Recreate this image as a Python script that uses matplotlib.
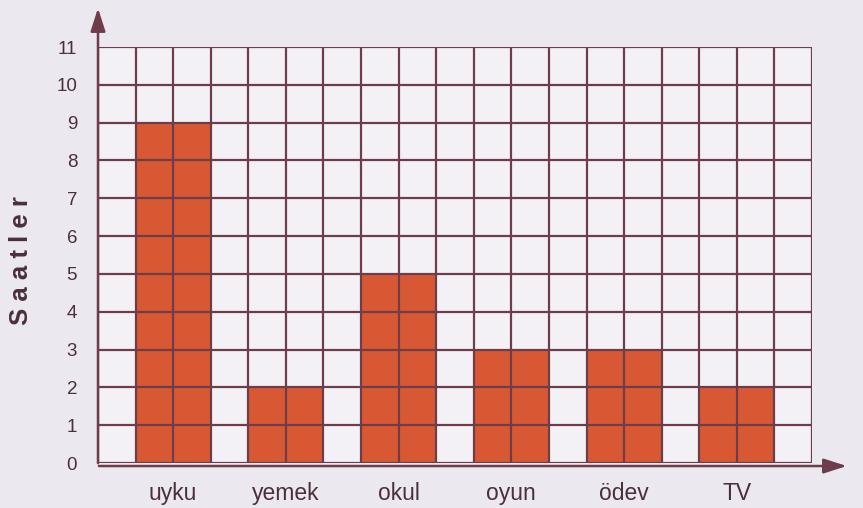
import numpy as np
import matplotlib
matplotlib.use('Agg')
import matplotlib.pyplot as plt

categories = ['uyku', 'yemek', 'okul', 'oyun', 'ödev', 'TV']
hours = [9, 2, 5, 3, 3, 2]
y_ticks = list(range(0, 12))

bg = '#ebe8f0'
line_col = '#6e3d4c'
bar_col = '#d85834'
text_col = '#4a2f3c'

plt.rcParams['font.family'] = ['Liberation Sans', 'DejaVu Sans']

W, H = 863, 508
fig = plt.figure(figsize=(W / 100, H / 100), dpi=100, facecolor=bg)

# grid area in pixels
left, right, top, bottom = 98, 812, 47, 463
ax = fig.add_axes([left / W, 1 - bottom / H, (right - left) / W, (bottom - top) / H])
ax.set_facecolor('#f3f1f6')

n_cols = 19
ax.set_xlim(0, n_cols)
ax.set_ylim(0, 11)

# bars: each two grid columns wide, one empty column between
xs = np.arange(len(categories)) * 3 + 1
ax.bar(xs, hours, width=2, align='edge', color=bar_col, zorder=2)

# grid lines
for x in range(n_cols + 1):
    ax.axvline(x, color=line_col, lw=1.6, zorder=3)
for y in y_ticks:
    ax.axhline(y, color=line_col, lw=1.6, zorder=3)

for s in ax.spines.values():
    s.set_visible(False)

ax.set_yticks(y_ticks)
ax.set_yticklabels([str(t) for t in y_ticks], fontsize=13.5, color=text_col)
ax.set_xticks(xs + 1)
ax.set_xticklabels(categories, fontsize=16.5, color=text_col)
ax.tick_params(axis='both', length=0)
ax.tick_params(axis='y', pad=15)
ax.tick_params(axis='x', pad=14)

# axis arrows
ax.annotate('', xy=(0, 12.1), xytext=(0, -0.08), xycoords='data',
            arrowprops=dict(arrowstyle='-|>,head_length=1.4,head_width=0.45',
                            color=line_col, lw=1.8), annotation_clip=False)
ax.annotate('', xy=(20.0, -0.08), xytext=(-0.05, -0.08), xycoords='data',
            arrowprops=dict(arrowstyle='-|>,head_length=1.4,head_width=0.45',
                            color=line_col, lw=1.8), annotation_clip=False)

fig.text(21 / W, 1 - 261 / H, 'S a a t l e r', rotation=90, ha='center', va='center',
         fontsize=18.5, fontweight='bold', color=text_col)

fig.savefig('out.png', dpi=100, facecolor=bg)
